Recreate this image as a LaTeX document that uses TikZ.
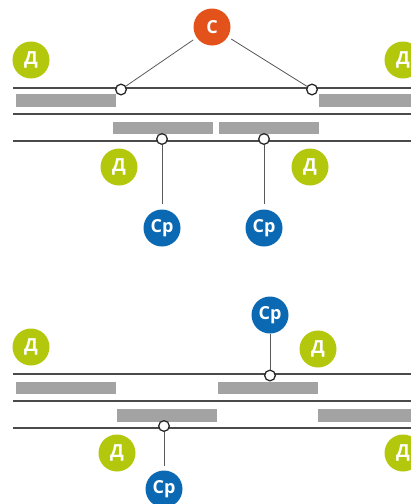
\documentclass[tikz,border=0pt]{standalone}
\usepackage{fontspec}
\setmainfont{Open Sans}
\definecolor{dgreen}{HTML}{B3C70C}
\definecolor{corange}{HTML}{E4521B}
\definecolor{sblue}{HTML}{0A69B2}
\definecolor{trackgray}{HTML}{4A4A4A}
\definecolor{bargray}{HTML}{A3A3A3}
\definecolor{linkgray}{HTML}{5A5A5A}
\begin{document}
\begin{tikzpicture}[x=0.75pt,y=-0.75pt,
  badge/.style={circle, minimum size=27.75pt, inner sep=0pt, text=white,
    font=\bfseries\fontsize{13.5}{14}\selectfont},
  dbadge/.style={badge, fill=dgreen},
  cbadge/.style={badge, fill=corange},
  sbadge/.style={badge, fill=sblue},
  track/.style={draw=trackgray, line width=1.05pt},
  bar/.style={fill=bargray},
  junction/.style={circle, draw=black!85, fill=white, line width=0.95pt,
    minimum size=8pt, inner sep=0pt},
  link/.style={draw=linkgray, line width=0.6pt}]
\useasboundingbox (0,0) rectangle (411,504);
\clip (0,0) rectangle (411,504);
% ---------- top section ----------
\draw[track] (13,88) -- (411,88);
\draw[track] (13,114) -- (411,114);
\draw[track] (13,141) -- (411,141);
\fill[bar] (16,94) rectangle (116,107);
\fill[bar] (319,94) rectangle (411,107);
\fill[bar] (113,122) rectangle (213,134);
\fill[bar] (219,122) rectangle (319,134);
\node[cbadge] (c) at (212,27) {С};
\node[dbadge] (d1) at (31,60) {Д};
\node[dbadge] (d2) at (403,60) {Д};
\node[dbadge] (d3) at (119,167) {Д};
\node[dbadge] (d4) at (310,167) {Д};
\node[junction] (j1) at (121,89.5) {};
\node[junction] (j2) at (312,89.5) {};
\node[junction] (j3) at (162,139) {};
\node[junction] (j4) at (264,139) {};
\node[sbadge] (s1) at (162,228) {Ср};
\node[sbadge] (s2) at (264,228) {Ср};
\draw[link, shorten <=3pt] (c) -- (j1);
\draw[link, shorten <=3pt] (c) -- (j2);
\draw[link, shorten >=4pt] (j3) -- (s1);
\draw[link, shorten >=4pt] (j4) -- (s2);
% ---------- bottom section ----------
\draw[track] (13,374) -- (411,374);
\draw[track] (13,401) -- (411,401);
\draw[track] (13,428) -- (411,428);
\fill[bar] (16,382) rectangle (116,394);
\fill[bar] (218,382) rectangle (318,394);
\fill[bar] (117,409) rectangle (217,422);
\fill[bar] (318,409) rectangle (411,422);
\node[dbadge] (d5) at (31,347) {Д};
\node[dbadge] (d6) at (318,349) {Д};
\node[dbadge] (d7) at (117,453) {Д};
\node[dbadge] (d8) at (403,453) {Д};
\node[junction] (j5) at (270,375.5) {};
\node[junction] (j6) at (164,426) {};
\node[sbadge] (s3) at (270,315) {Ср};
\node[sbadge] (s4) at (164,489) {Ср};
\draw[link] (j5) -- (s3);
\draw[link, shorten >=3pt] (j6) -- (s4);
\end{tikzpicture}
\end{document}
